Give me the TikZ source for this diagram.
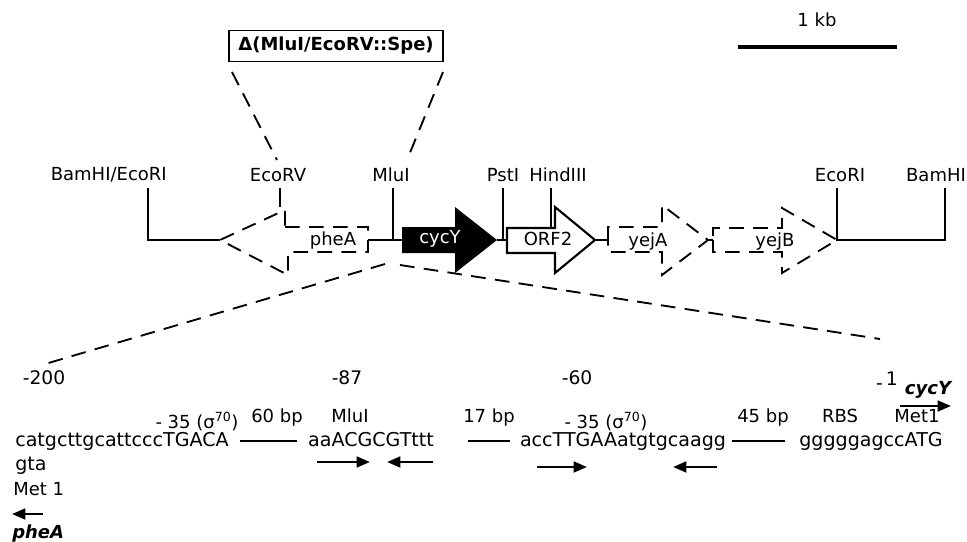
\documentclass[tikz,border=0pt]{standalone}
\usepackage{fontspec}
\setmainfont{DejaVu Sans}
\usetikzlibrary{arrows.meta}
\begin{document}
\begin{tikzpicture}[x=0.75pt,y=-0.75pt,
  map/.style={line width=1.6pt},
  dsh/.style={line width=1.4pt, dash pattern=on 11pt off 7pt},
  site/.style={font=\fontsize{13.5}{15}\selectfont, inner sep=0pt},
  seq/.style={font=\fontsize{14.3}{16}\selectfont, inner sep=0pt, anchor=base},
  lab/.style={font=\fontsize{13.5}{15}\selectfont, inner sep=0pt, anchor=base},
  posl/.style={font=\fontsize{14}{16}\selectfont, inner sep=0pt},
  arr/.style={line width=2pt, -{Triangle[length=10pt,width=8pt]}},
  gene/.style={font=\fontsize{13.5}{15}\selectfont, inner sep=0pt},
]
\useasboundingbox (0,0) rectangle (967,542);

% scale bar
\coordinate (sbL) at (738,47); \coordinate (sbR) at (897,47);
\draw[line width=2.4pt] (sbL) -- (sbR);
\node[site] (kb) at (817,20) {1 kb};

% deletion box
\node[draw, line width=1.2pt, font=\bfseries\fontsize{13.5}{15}\selectfont,
      minimum width=160.5pt, minimum height=23pt, inner sep=2pt] (delta) at (336,46) {Δ(MluI/EcoRV::Spe)};
\coordinate (dl1) at (232,72); \coordinate (dl2) at (277,160);
\coordinate (dr1) at (443,72); \coordinate (dr2) at (407,160);
\draw[dsh] (dl1) -- (dl2);
\draw[dsh] (dr1) -- (dr2);

% restriction site labels
\node[site, anchor=east] (sBE) at (167,175) {BamHI/EcoRI};
\node[site] (sRV) at (278,175) {EcoRV};
\node[site] (sMl) at (391,175) {MluI};
\node[site] (sPs) at (503,175) {PstI};
\node[site] (sHd) at (558,175) {HindIII};
\node[site] (sRI) at (840,175) {EcoRI};
\node[site] (sBm) at (936,175) {BamHI};

% coordinates on the map
\coordinate (BEt) at (148,188); \coordinate (pheTip) at (220,240);
\coordinate (RVt) at (280,188); \coordinate (RVb) at (280,207);
\coordinate (Mlt) at (393,188); \coordinate (Mlb) at (393,240);
\coordinate (pheEnd) at (368,240); \coordinate (cycStart) at (402,240);
\coordinate (cycTip) at (497,240);
\coordinate (Pst) at (503,188); \coordinate (Psb) at (503,240);
\coordinate (orfStart) at (507,240); \coordinate (orfTip) at (595,240);
\coordinate (Hdt) at (551,188); \coordinate (Hdb) at (551,228);
\coordinate (yAstart) at (608,240); \coordinate (yAtip) at (708,240);
\coordinate (yBstart) at (713,240); \coordinate (yBtip) at (837,240);
\coordinate (RIt) at (837,188); \coordinate (Bmt) at (945,188); \coordinate (Bmb) at (945,240);

% solid map segments
\draw[map] (BEt) |- (pheTip);
\draw[map] (RVt) -- (RVb);
\draw[map] (Mlt) -- (Mlb);
\draw[map] (pheEnd) -- (cycStart);
\draw[map] (Pst) -- (Psb);
\draw[map] (cycTip) -- (orfStart);
\draw[map] (orfTip) -- (yAstart);
\draw[map] (yAtip) -- (yBstart);
\draw[map] (RIt) -- (yBtip) -- (Bmb) -- (Bmt);

% pheA (dashed, leftward)
\draw[dsh] (285,227) -- (368,227) -- (368,252) -- (288,252) -- (288,275) -- (pheTip) -- (285,210) -- cycle;
\node[gene] (pheA) at (333,241) {pheA};

% cycY (black)
\fill (cycStart) -- (402,227) -- (455,227) -- (455,207) -- (cycTip) -- (455,273) -- (455,253) -- (402,253) -- cycle;
\node[gene, text=white] (cycY) at (440,239) {cycY};

% ORF2 (white)
\draw[map, fill=white] (orfStart) -- (507,228) -- (555,228) -- (555,207) -- (orfTip) -- (555,273) -- (555,253) -- (507,253) -- cycle;
\draw[map] (Hdt) -- (Hdb);
\node[gene] (orf2) at (548,239) {ORF2};

% yejA, yejB (dashed)
\draw[dsh] (yAstart) -- (608,227) -- (662,227) -- (662,205) -- (yAtip) -- (662,275) -- (662,252) -- (608,252) -- cycle;
\node[gene] (yejA) at (648,242) {yejA};
\draw[dsh] (yBstart) -- (713,252) -- (782,252) -- (782,273) -- (yBtip) -- (782,208) -- (782,228) -- (713,228) -- cycle;
\node[gene] (yejB) at (775,242) {yejB};

% expansion lines
\coordinate (fanL) at (385,264); \coordinate (fanR) at (400,265);
\coordinate (m200) at (45,364); \coordinate (m1) at (880,339);
\draw[dsh] (fanL) -- (m200);
\draw[dsh] (fanR) -- (m1);

% positions
\node[posl] (p200) at (44,378) {-200};
\node[posl] (p87) at (347,378) {-87};
\node[posl] (p60) at (577,378) {-60};
\node[posl] (p1) at (887,381) {-\,\raisebox{3pt}{1}};
\node[posl, font=\bfseries\itshape\fontsize{13.5}{15}\selectfont] (cycYl) at (928,390) {cycY};
\coordinate (cA1) at (900,406); \coordinate (cA2) at (951,406);
\draw[arr] (cA1) -- (cA2);

% sequence row
\node[seq, anchor=base west] (seq1) at (15,446) {catgcttgcattcccTGACA};
\node[lab] (m35a) at (197,428) {- 35 (σ\textsuperscript{70})};
\node[lab] (bp60) at (277,422) {60 bp};
\coordinate (l60a) at (240,441); \coordinate (l60b) at (297,441);
\draw[map] (l60a) -- (l60b);
\node[lab] (mlu) at (350,422) {MluI};
\node[seq] (seq2) at (371,446) {aaACGCGTttt};
\coordinate (a1a) at (317,462); \coordinate (a1b) at (370,462);
\coordinate (a2a) at (433,462); \coordinate (a2b) at (387,462);
\draw[arr] (a1a) -- (a1b);
\draw[arr] (a2a) -- (a2b);
\node[lab] (bp17) at (489,422) {17 bp};
\coordinate (l17a) at (468,441); \coordinate (l17b) at (510,441);
\draw[map] (l17a) -- (l17b);
\node[lab] (m35b) at (606,428) {- 35 (σ\textsuperscript{70})};
\node[seq] (seq3) at (623,446) {accTTGAAatgtgcaagg};
\coordinate (a3a) at (537,467); \coordinate (a3b) at (587,467);
\coordinate (a4a) at (717,467); \coordinate (a4b) at (673,467);
\draw[arr] (a3a) -- (a3b);
\draw[arr] (a4a) -- (a4b);
\node[lab] (bp45) at (763,422) {45 bp};
\coordinate (l45a) at (732,441); \coordinate (l45b) at (785,441);
\draw[map] (l45a) -- (l45b);
\node[lab] (rbs) at (840,422) {RBS};
\node[lab] (met1) at (917,422) {Met1};
\node[seq] (seq4) at (871,446) {gggggagccATG};

% pheA start, bottom left
\node[seq, anchor=base west] (gta) at (15,470) {gta};
\node[lab, anchor=base west] (met1b) at (13,495) {Met 1};
\coordinate (pA1) at (43,514); \coordinate (pA2) at (12,514);
\draw[arr] (pA1) -- (pA2);
\node[lab, anchor=base west, font=\bfseries\itshape\fontsize{13.5}{15}\selectfont] (pheAl) at (12,538) {pheA};
\end{tikzpicture}
\end{document}
